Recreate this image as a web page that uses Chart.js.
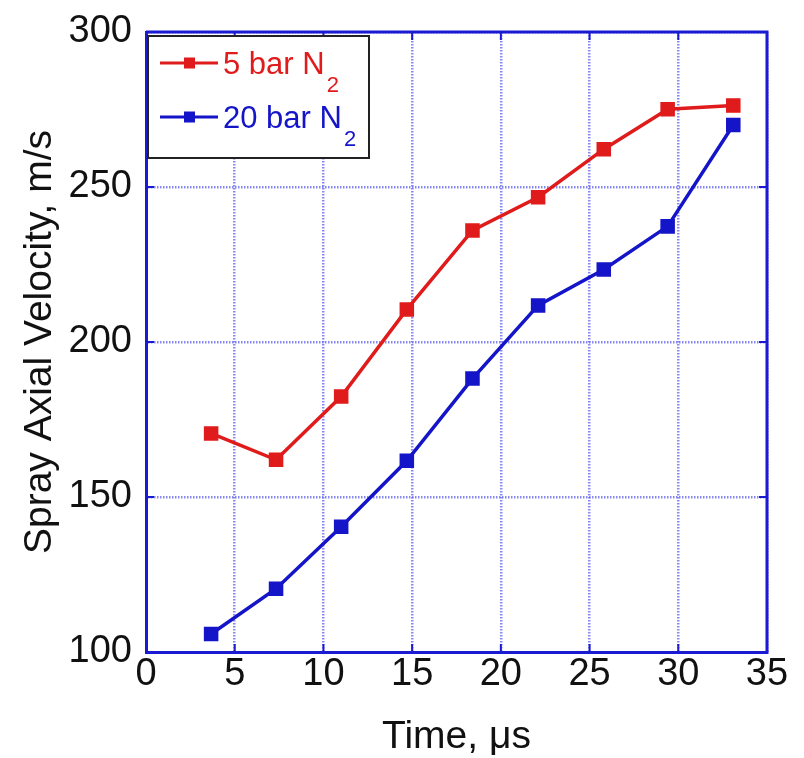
<!DOCTYPE html>
<html>
<head>
<meta charset="utf-8">
<script src="https://cdn.jsdelivr.net/npm/chart.js@4/dist/chart.umd.min.js"></script>
<style>
  html, body { margin: 0; padding: 0; background: #fff; }
  #wrap { width: 804px; height: 758px; }
</style>
</head>
<body>
<div id="wrap"><canvas id="myChart" width="804" height="758"></canvas></div>
<script>
// datos
const tiempos = [3.67, 7.33, 11.0, 14.7, 18.4, 22.1, 25.8, 29.4, 33.1]
const vel5bar = [170.5, 162.0, 182.4, 210.5, 236.0, 246.7, 262.2, 275.1, 276.3]
const vel20bar = [105.8, 120.4, 140.4, 161.7, 188.2, 211.8, 223.4, 237.3, 270.0]
const nombresSerie = ['5 bar N', '20 bar N']
const subIndice = '2'
const ticksX = [0, 5, 10, 15, 20, 25, 30, 35]
const ticksY = [100, 150, 200, 250, 300]

const rojo = '#e01b1b'
const azul = '#1414c8'
const azulEje = '#1a1ad2'
const azulGrilla = 'rgba(105,105,240,0.8)'
const fuente = "'Liberation Sans', Arial, sans-serif"

// marco superior/derecho y marcas hacia adentro
const marcoPlugin = {
    id: 'marco',
    afterDatasetsDraw(chart) {
        const { ctx, chartArea: a, scales } = chart
        ctx.save()
        ctx.strokeStyle = azulEje
        ctx.lineWidth = 3
        ctx.beginPath()
        ctx.moveTo(a.left, a.top)
        ctx.lineTo(a.right, a.top)
        ctx.lineTo(a.right, a.bottom)
        ctx.stroke()
        ctx.lineWidth = 2
        const largo = 8
        ticksX.forEach(v => {
            const x = scales.x.getPixelForValue(v)
            ctx.beginPath()
            ctx.moveTo(x, a.bottom); ctx.lineTo(x, a.bottom - largo)
            ctx.moveTo(x, a.top); ctx.lineTo(x, a.top + largo)
            ctx.stroke()
        })
        ticksY.forEach(v => {
            const y = scales.y.getPixelForValue(v)
            ctx.beginPath()
            ctx.moveTo(a.left, y); ctx.lineTo(a.left + largo, y)
            ctx.moveTo(a.right, y); ctx.lineTo(a.right - largo, y)
            ctx.stroke()
        })
        ctx.restore()
    }
}

// leyenda dentro del area, con subindice
const leyendaPlugin = {
    id: 'leyendaN2',
    afterDraw(chart) {
        const { ctx, chartArea: a } = chart
        const bx = a.left + 2, by = a.top + 4, bw = 221, bh = 122
        ctx.save()
        ctx.fillStyle = '#fff'
        ctx.fillRect(bx, by, bw, bh)
        ctx.strokeStyle = '#222'
        ctx.lineWidth = 2
        ctx.strokeRect(bx, by, bw, bh)
        chart.data.datasets.forEach((ds, i) => {
            const yc = by + 27 + i * 54
            ctx.strokeStyle = ds.borderColor
            ctx.lineWidth = 3
            ctx.beginPath()
            ctx.moveTo(bx + 12, yc); ctx.lineTo(bx + 70, yc)
            ctx.stroke()
            ctx.fillStyle = ds.borderColor
            ctx.fillRect(bx + 36, yc - 5.5, 11, 11)
            ctx.font = '31px ' + fuente
            ctx.textBaseline = 'alphabetic'
            const texto = nombresSerie[i]
            ctx.fillText(texto, bx + 75, yc + 11)
            const w = ctx.measureText(texto).width
            ctx.font = '22px ' + fuente
            ctx.fillText(subIndice, bx + 77 + w, yc + 29)
        })
        ctx.restore()
    }
}

const canvas = document.querySelector('#myChart')
const myChart = new Chart(canvas, {
    type: 'line',
    data: {
        datasets: [
            {
                label: nombresSerie[0] + subIndice,
                data: tiempos.map((t, i) => ({ x: t, y: vel5bar[i] })),
                borderColor: rojo,
                backgroundColor: rojo,
                borderWidth: 3.5,
                pointStyle: 'rect',
                pointRadius: 7.8,
                pointHoverRadius: 7.8,
                tension: 0
            },
            {
                label: nombresSerie[1] + subIndice,
                data: tiempos.map((t, i) => ({ x: t, y: vel20bar[i] })),
                borderColor: azul,
                backgroundColor: azul,
                borderWidth: 3.5,
                pointStyle: 'rect',
                pointRadius: 7.8,
                pointHoverRadius: 7.8,
                tension: 0
            }
        ]
    },
    options: {
        responsive: false,
        animation: false,
        layout: { padding: { left: 0, right: 37, top: 32, bottom: 0 } },
        plugins: { legend: { display: false }, tooltip: { enabled: false } },
        scales: {
            x: {
                type: 'linear',
                min: 0, max: 35,
                afterFit: s => { s.height = 106; s.paddingLeft = 0; s.paddingRight = 0 },
                afterBuildTicks: s => { s.ticks = ticksX.map(v => ({ value: v })) },
                ticks: { color: '#111', font: { family: fuente, size: 38 }, padding: 0 },
                grid: { color: azulGrilla, lineWidth: 2.5, drawTicks: false },
                border: { color: azulEje, width: 3, dash: [1.5, 1.5] },
                title: { display: true, text: 'Time, \u03bcs', color: '#111',
                         font: { family: fuente, size: 39 }, padding: { top: 0, bottom: -3 } }
            },
            y: {
                min: 100, max: 300,
                afterFit: s => { s.width = 146; s.paddingTop = 0; s.paddingBottom = 0 },
                afterBuildTicks: s => { s.ticks = ticksY.map(v => ({ value: v })) },
                ticks: { color: '#111', font: { family: fuente, size: 38 }, padding: 14 },
                grid: { color: azulGrilla, lineWidth: 2.5, drawTicks: false },
                border: { color: azulEje, width: 3, dash: [1.5, 1.5] },
                title: { display: true, text: 'Spray Axial Velocity, m/s', color: '#111',
                         font: { family: fuente, size: 39 }, padding: { top: 17, bottom: 0 } }
            }
        }
    },
    plugins: [marcoPlugin, leyendaPlugin]
})
</script>
</body>
</html>
